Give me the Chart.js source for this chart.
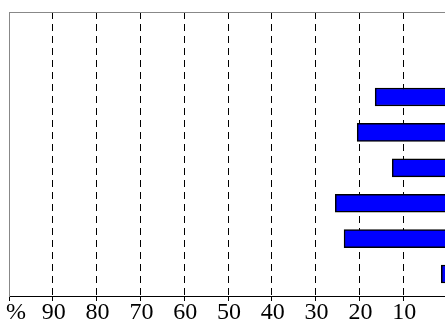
<!DOCTYPE html>
<html lang="en">
<head>
   <meta charset="UTF-8">
   <title>Horizontal bars</title>
   <script src="https://cdn.jsdelivr.net/npm/chart.js"></script>
   <style>
      html, body { margin: 0; padding: 0; background: #fff; overflow: hidden; }
      #wrap { width: 470px; height: 327px; }
   </style>
</head>
<body>
   <div id="wrap"><canvas id="bars"></canvas></div>

   <script>
    // bar values (percent), read from top row to bottom row
    const rowPositions = [6, 5, 4, 3, 2, 1];
    const barValues = [16.4, 20.5, 12.5, 25.5, 23.5, 1.3];
    // x axis ticks, 100 shows as "%"
    const tickValues = [100, 90, 80, 70, 60, 50, 40, 30, 20, 10, 0];
    const tickLabels = ["\u2002%", "90", "80", "70", "60", "50", "40", "30", "20", "10", ""];

    const serif = "'Liberation Serif', 'Times New Roman', serif";

    let points = rowPositions.map((y, i) => ({ x: barValues[i], y: y }));

    new Chart(document.getElementById("bars"), {
        type: "bar",
        data: {
            datasets: [{
                data: points,
                backgroundColor: "#0000ff",
                borderColor: "#000000",
                borderWidth: 1.5,
                borderSkipped: false,
                barThickness: 18
            }]
        },
        options: {
            indexAxis: "y",
            responsive: true,
            maintainAspectRatio: false,
            animation: false,
            layout: { padding: { left: 9, top: 12, right: 23, bottom: 0 } },
            plugins: { legend: { display: false }, tooltip: { enabled: false } },
            scales: {
                x: {
                    type: "linear",
                    reverse: true,
                    min: 0,
                    max: 100,
                    afterBuildTicks: s => { s.ticks = tickValues.map(v => ({ value: v })); },
                    afterFit: s => { s.height = 31; s.paddingLeft = 0; s.paddingRight = 0; },
                    ticks: {
                        autoSkip: false,
                        maxRotation: 0,
                        padding: 0,
                        labelOffset: 1,
                        color: "#000",
                        font: { family: serif, size: 24, lineHeight: 1 },
                        callback: v => tickLabels[tickValues.indexOf(v)]
                    },
                    grid: {
                        drawOnChartArea: true,
                        tickLength: 5,
                        tickColor: "#000",
                        color: c => (c.tick && (c.tick.value === 100 || c.tick.value === 0)) ? "rgba(0,0,0,0)" : "#000",
                        lineWidth: 1
                    },
                    border: { display: true, color: "#000", width: 1, dash: [7, 5] }
                },
                xTop: {
                    type: "linear",
                    position: "top",
                    min: 0,
                    max: 100,
                    ticks: { display: false },
                    grid: { display: false },
                    afterFit: s => { s.height = 0; },
                    border: { display: true, color: "#888", width: 1 }
                },
                y: {
                    type: "linear",
                    offset: false,
                    min: 0.38,
                    max: 8.4,
                    ticks: { display: false },
                    grid: { display: false, offset: false },
                    afterFit: s => { s.width = 0; },
                    border: { display: true, color: "#888", width: 1 }
                }
            }
        }
    });
</script>

</body>
</html>
